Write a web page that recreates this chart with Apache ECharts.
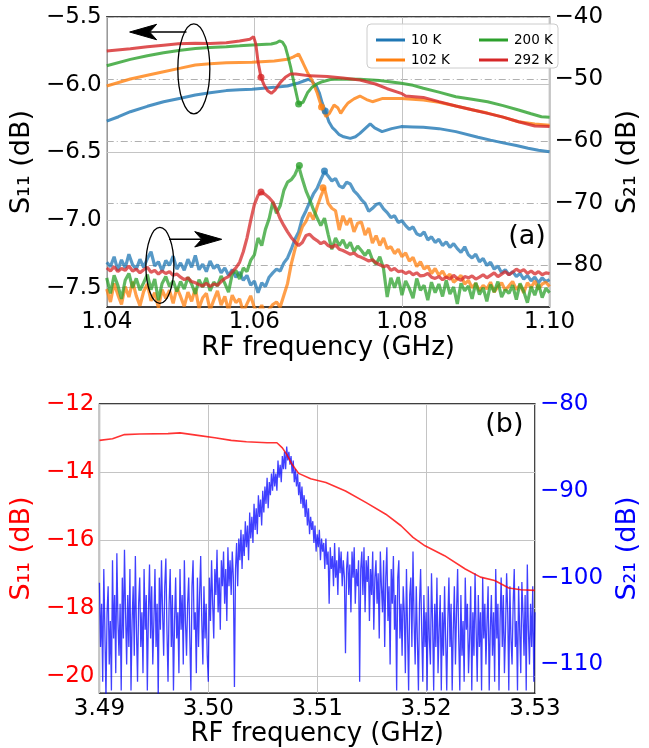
<!DOCTYPE html>
<html><head><meta charset="utf-8">
<script src="https://cdn.jsdelivr.net/npm/echarts@6/dist/echarts.min.js"></script>
<style>html,body{margin:0;padding:0;background:#fff}#c{width:649px;height:748px}</style>
</head><body><div id="c"></div>
<script>
// ---------------- DATA ----------------
const seriesNames = ['10 K', '102 K', '200 K', '292 K'];
const colorsA = ['#1f77b4', '#ff7f0e', '#2ca02c', '#d62728'];

// Panel (a): S11 (left axis, dB) as [GHz, dB]
const s11_10K = [[1.0400,-6.27],[1.0416,-6.237],[1.0432,-6.20],[1.0455,-6.16],[1.0477,-6.126],[1.050,-6.10],[1.052,-6.076],[1.054,-6.06],[1.0562,-6.044],[1.058,-6.038],[1.0597,-6.034],[1.0627,-6.02],[1.0645,-6.01],[1.0658,-5.99],[1.0666,-5.975],[1.0673,-5.96],[1.0678,-5.975],[1.0684,-6.01],[1.0688,-6.06],[1.0692,-6.136],[1.0696,-6.195],[1.0701,-6.274],[1.0706,-6.32],[1.071,-6.34],[1.0715,-6.37],[1.0721,-6.385],[1.073,-6.397],[1.0737,-6.385],[1.0743,-6.36],[1.075,-6.325],[1.0757,-6.29],[1.0763,-6.32],[1.0773,-6.347],[1.0786,-6.325],[1.0799,-6.31],[1.0815,-6.312],[1.0829,-6.315],[1.085,-6.325],[1.0873,-6.347],[1.0903,-6.389],[1.092,-6.41],[1.0937,-6.43],[1.0955,-6.45],[1.0971,-6.47],[1.0985,-6.485],[1.1,-6.495]];
const s11_102K = [[1.04,-6.01],[1.0432,-5.958],[1.0455,-5.93],[1.0477,-5.904],[1.050,-5.878],[1.052,-5.855],[1.054,-5.845],[1.0562,-5.838],[1.058,-5.836],[1.0597,-5.835],[1.0627,-5.825],[1.0645,-5.813],[1.0653,-5.795],[1.066,-5.773],[1.0666,-5.84],[1.0672,-5.91],[1.0678,-5.966],[1.0685,-6.06],[1.0691,-6.165],[1.0697,-6.237],[1.0702,-6.21],[1.0708,-6.15],[1.0713,-6.17],[1.0717,-6.212],[1.0722,-6.17],[1.0727,-6.135],[1.0735,-6.105],[1.0743,-6.084],[1.0752,-6.11],[1.076,-6.126],[1.0773,-6.103],[1.0799,-6.103],[1.0829,-6.113],[1.085,-6.13],[1.0873,-6.158],[1.0895,-6.185],[1.0916,-6.21],[1.0937,-6.24],[1.0958,-6.274],[1.098,-6.29],[1.1,-6.30]];
const s11_200K = [[1.04,-5.86],[1.0432,-5.813],[1.0455,-5.787],[1.0477,-5.764],[1.050,-5.745],[1.052,-5.732],[1.054,-5.725],[1.0562,-5.719],[1.058,-5.713],[1.0597,-5.707],[1.0623,-5.70],[1.063,-5.69],[1.0634,-5.677],[1.0638,-5.685],[1.0642,-5.72],[1.0645,-5.78],[1.0649,-5.867],[1.0655,-6.02],[1.066,-6.143],[1.0666,-6.13],[1.0672,-6.06],[1.0678,-6.02],[1.0685,-5.995],[1.0692,-5.978],[1.0703,-5.962],[1.0714,-5.958],[1.0743,-5.96],[1.077,-5.97],[1.0799,-5.99],[1.0815,-6.005],[1.0829,-6.027],[1.085,-6.055],[1.0873,-6.089],[1.0895,-6.108],[1.0916,-6.126],[1.0937,-6.155],[1.0958,-6.187],[1.0975,-6.215],[1.0989,-6.237],[1.1,-6.24]];
const s11_292K = [[1.04,-5.751],[1.0432,-5.735],[1.0455,-5.72],[1.0477,-5.708],[1.0497,-5.698],[1.052,-5.694],[1.054,-5.695],[1.0562,-5.69],[1.058,-5.678],[1.0594,-5.665],[1.0599,-5.645],[1.0602,-5.70],[1.0605,-5.83],[1.0609,-5.946],[1.0613,-6.0],[1.0618,-6.045],[1.0623,-6.064],[1.0628,-6.04],[1.0635,-5.985],[1.0642,-5.945],[1.0649,-5.921],[1.0656,-5.921],[1.0675,-5.935],[1.0699,-5.94],[1.072,-5.95],[1.0743,-5.966],[1.0764,-5.995],[1.078,-6.03],[1.0799,-6.064],[1.0805,-6.084],[1.0829,-6.094],[1.085,-6.125],[1.0873,-6.158],[1.0895,-6.185],[1.0916,-6.212],[1.0937,-6.24],[1.0958,-6.274],[1.098,-6.306],[1.1,-6.31]];
// marked points on S11 curves [GHz, dB]
const s11Dots = [[1.0696,-6.195],[1.0691,-6.165],[1.0660,-6.143],[1.0609,-5.946]];

// Panel (a): S21 (right axis, dB), sampled from 1.04 GHz every 0.0005 GHz
const s21StartA = 1.04, s21StepA = 0.0005;
const s21_10K = [-79.5,-80.2,-78.6,-80.8,-79.1,-80.4,-78.2,-79.9,-80.6,-79.0,
-80.3,-78.9,-77.8,-80.1,-79.4,-80.9,-79.2,-80.0,-78.5,-80.6,
-79.6,-80.8,-79.0,-80.3,-78.4,-80.7,-79.8,-81.0,-79.3,-80.5,
-79.9,-81.2,-80.4,-81.6,-80.7,-81.9,-81.1,-82.4,-81.6,-83.2,
-82.5,-84.4,-82.8,-83.4,-81.9,-81.2,-80.6,-80.9,-79.6,-78.8,
-77.4,-75.8,-74.6,-72.4,-71.2,-69.8,-68.5,-67.6,-66.2,-64.9,
-65.6,-66.4,-66.0,-67.2,-67.5,-66.6,-66.9,-68.0,-68.6,-69.4,
-70.0,-71.3,-70.8,-70.2,-70.0,-70.9,-71.5,-72.3,-72.0,-73.1,
-72.8,-73.6,-74.2,-73.8,-74.9,-75.2,-74.6,-75.9,-75.4,-76.3,
-75.8,-76.8,-76.2,-77.1,-76.5,-77.3,-77.9,-77.0,-78.3,-78.8,
-78.2,-79.4,-78.9,-80.0,-79.5,-80.6,-80.1,-81.2,-80.7,-81.5,
-81.0,-81.8,-81.3,-82.2,-81.6,-82.5,-81.9,-82.8,-82.0,-82.6,-82.3];
const s21_102K = [-83.8,-85.9,-82.9,-84.7,-86.3,-83.4,-85.1,-82.6,-84.9,-86.5,
-84.2,-83.0,-85.7,-84.4,-86.8,-83.9,-85.3,-84.0,-86.1,-83.6,
-85.0,-86.6,-84.3,-85.8,-83.7,-86.9,-85.2,-84.5,-87.2,-85.6,
-84.1,-86.4,-85.0,-87.3,-84.8,-86.0,-85.4,-87.5,-86.2,-84.9,
-86.8,-87.6,-86.4,-88.0,-87.1,-86.3,-85.9,-86.7,-84.8,-82.9,
-79.8,-77.4,-75.6,-73.8,-72.9,-71.5,-72.6,-70.6,-68.9,-67.5,
-70.0,-70.8,-71.2,-74.3,-72.0,-73.5,-72.4,-74.6,-73.2,-73.0,
-75.1,-74.0,-76.4,-75.2,-76.8,-75.6,-77.3,-77.0,-78.1,-77.4,
-78.6,-78.0,-79.3,-78.7,-80.2,-79.4,-80.6,-80.1,-81.3,-80.5,
-81.6,-80.9,-82.0,-81.4,-82.7,-82.2,-81.6,-83.0,-82.4,-83.6,
-82.9,-84.1,-83.2,-83.8,-82.7,-84.3,-83.4,-82.8,-84.0,-83.3,
-82.6,-83.9,-83.1,-84.4,-82.8,-83.6,-82.5,-83.8,-83.0,-82.7,-83.4];
const s21_200K = [-82.0,-84.5,-81.6,-83.2,-85.4,-82.4,-81.3,-83.6,-82.1,-84.0,
-82.8,-81.5,-83.9,-82.2,-85.6,-82.9,-81.8,-83.4,-82.5,-84.2,
-82.6,-83.8,-81.9,-83.0,-84.6,-82.3,-83.5,-82.0,-84.1,-82.7,
-83.3,-81.7,-82.9,-84.3,-81.4,-80.8,-82.2,-80.4,-81.0,-79.2,
-78.3,-75.6,-76.8,-74.2,-72.5,-69.8,-71.6,-70.4,-67.9,-66.6,
-66.2,-65.4,-64.0,-66.1,-68.0,-69.4,-71.0,-72.3,-73.6,-72.4,
-75.0,-77.4,-75.6,-76.8,-75.9,-77.2,-76.3,-77.8,-76.9,-77.6,
-78.4,-77.5,-79.1,-79.8,-78.6,-80.5,-85.1,-82.0,-83.6,-81.9,
-84.8,-82.5,-83.7,-85.3,-82.1,-84.0,-83.2,-85.6,-82.7,-84.4,
-83.0,-85.0,-82.4,-84.6,-83.5,-86.2,-82.9,-84.1,-83.3,-85.4,
-82.8,-84.7,-83.6,-85.8,-83.1,-84.3,-82.6,-85.1,-83.9,-84.5,
-83.2,-85.5,-82.9,-84.2,-86.0,-83.4,-84.8,-83.0,-85.2,-83.7,-84.4];
const s21_292K = [-80.4,-80.9,-80.2,-81.0,-80.5,-80.8,-80.1,-80.9,-80.6,-81.2,
-80.7,-80.3,-81.1,-80.8,-81.4,-80.9,-81.3,-81.0,-81.6,-81.4,
-81.9,-82.3,-82.0,-82.6,-82.8,-83.1,-83.3,-82.9,-83.4,-83.0,
-83.2,-82.6,-82.1,-81.8,-81.0,-80.4,-79.5,-77.8,-75.6,-72.8,
-70.2,-68.7,-68.2,-68.6,-69.1,-69.8,-71.0,-72.5,-73.6,-74.6,
-75.5,-76.2,-76.8,-76.3,-75.2,-75.0,-75.6,-76.0,-76.5,-76.2,
-76.8,-77.1,-76.7,-77.4,-77.6,-77.9,-78.2,-78.0,-78.5,-78.7,
-79.0,-79.3,-79.1,-79.6,-79.9,-80.2,-80.0,-80.8,-80.5,-81.0,
-80.9,-81.3,-81.0,-81.5,-81.2,-81.7,-81.6,-81.3,-81.9,-82.1,
-81.8,-82.3,-81.9,-82.2,-81.6,-82.1,-82.4,-81.8,-82.0,-81.7,
-82.2,-81.9,-81.5,-82.0,-81.6,-81.2,-81.8,-81.4,-81.0,-81.5,
-81.1,-80.6,-81.0,-80.7,-81.3,-80.9,-81.4,-81.0,-81.5,-81.2,-81.3];
// marked points on S21 curves [GHz, dB]
const s21Dots = [[1.0695,-64.8],[1.0693,-67.5],[1.0661,-63.9],[1.0609,-68.2]];

// Panel (b): S11 (left, red) as [GHz, dB]
const s11B = [[3.490,-13.07],[3.4912,-13.02],[3.4923,-12.9],[3.4937,-12.88],[3.4963,-12.87],[3.4974,-12.85],[3.4992,-12.93],[3.5006,-12.99],[3.5021,-13.07],[3.5035,-13.11],[3.5054,-13.14],[3.5063,-13.14],[3.5068,-13.29],[3.5072,-13.48],[3.5077,-13.78],[3.5083,-14.04],[3.5094,-14.2],[3.5108,-14.31],[3.5126,-14.56],[3.5145,-14.9],[3.5163,-15.24],[3.5177,-15.58],[3.5188,-15.92],[3.5199,-16.17],[3.5217,-16.46],[3.5236,-16.85],[3.525,-17.09],[3.5263,-17.19],[3.5276,-17.41],[3.5287,-17.46],[3.530,-17.48]];
// Panel (b): S21 (right, blue), sampled from 3.49 GHz every 0.0001 GHz
const s21StartB = 3.49, s21StepB = 0.0001;
const s21B = [-100.6,-108,-103,-112,-99,-106,-114,-104,-101,-110,-105,-113,-98,-107,-102,-111,-97.2,-105,-109,-103,
-113,-100,-107,-96.8,-104,-110,-102,-108,-99,-113,-105,-101,-109,-97.5,-106,-112,-103,-100,-108,-104,
-111,-99,-106,-102,-113,-104,-98.5,-107,-101,-110,-105,-99,-108,-103,-114,-100,-106,-98,-104,-109,
-101,-97.8,-106,-112,-103,-99,-108,-102,-113,-105,-100,-107,-104,-111,-99,-106,-102,-110,-98,-105,
-109,-103,-100,-107,-113,-101,-98,-106,-104,-111,-100,-108,-102,-97.5,-105,-110,-101,-107,-103,-109,
-112,-100,-105,-98,-103,-107,-99,-102,-96.8,-104,-100,-106,-98,-101,-97,-103,-99,-105,-96.5,-101,
-98,-102,-97,-100,-112.6,-99,-96,-101,-95.5,-98,-94.5,-99,-95,-97.5,-93.5,-96.5,-94,-98,-92.5,-95.5,
-93,-96,-91.5,-94.5,-92,-95,-90.5,-93,-91,-94,-90,-92.5,-89.5,-91.5,-88.5,-92,-89,-90.5,-88,-90,
-87.5,-89.5,-88,-90,-86.5,-88.5,-87,-89,-86,-87.5,-85.5,-87.5,-84.9,-86.5,-85.5,-87,-86,-88,-86.5,-89,
-87.5,-89.5,-88,-90.5,-89,-91.5,-89.5,-92,-90.5,-93,-91,-94,-92,-95,-93,-94.5,-93.5,-96,-94,-97,
-95,-96.5,-94.5,-98,-95.5,-97,-96,-99,-95.5,-98.5,-97,-103,-96.5,-99,-97.5,-101,-96,-100,-98,-102,
-96.5,-99.5,-97,-101,-98,-100,-108.7,-99,-97,-102,-98.5,-104,-97,-100,-96.5,-103,-99,-101,-98,-112,
-99,-97,-102,-96.5,-104,-98,-100.5,-97.5,-105,-99,-102,-97,-106,-100,-98,-103,-99.5,-107,-97,-101,
-104,-98,-108,-100,-96.5,-105,-101,-110,-99,-103,-97.5,-106,-102,-113,-100,-98,-107,-103,-109,-101,
-104,-111,-99,-106,-113,-102,-100,-108,-97,-105,-110,-101,-107,-113,-103,-99,-106,-112,-102,-108,
-104,-113,-101,-107,-110,-99.5,-105,-113,-103,-108,-100,-111,-106,-102,-113,-104,-109,-101,-107,-113,
-105,-100,-108,-103,-113,-106,-101,-110,-104,-99,-107,-113,-102,-109,-105,-112,-100,-106,-103,-111,
-107,-101,-113,-104,-109,-99.5,-106,-112,-102,-108,-104,-113,-100,-107,-103,-110,-105,-101,-113,-106,
-102,-109,-104,-112,-99,-107,-103,-113,-105,-100,-108,-102,-111,-106,-99.5,-104,-113,-101,-107,-110,
-103,-99,-108,-105,-113,-101,-106,-111,-100.5,-104,-109,-102,-113,-98.5,-106,-110,-103,-108,-101,-112,
-104];

// tick labels
const xTicksA = [1.04, 1.06, 1.08, 1.10];
const yLeftTicksA = [-7.5, -7.0, -6.5, -6.0, -5.5];
const yRightTicksA = [-80, -70, -60, -50, -40];
const xTicksB = [3.49, 3.50, 3.51, 3.52, 3.53];
const yLeftTicksB = [-20, -18, -16, -14, -12];
const yRightTicksB = [-110, -100, -90, -80];

// ---------------- CHART ----------------
const FONT = 'DejaVu Sans';
const minus = v => (v < 0 ? '\u2212' : '');
const fmt = d => v => minus(v) + Math.abs(v).toFixed(d);
const toXY = (arr, start, step) => arr.map((v, i) => [+(start + step * i).toFixed(5), v]);

const chart = echarts.init(document.getElementById('c'), null, {renderer: 'canvas'});

function yAxisCfg(opt) {
  return Object.assign({
    type: 'value', scale: true,
    axisLine: {show: false}, axisTick: {show: false, customValues: opt.ticks},
    axisLabel: {customValues: opt.ticks, formatter: fmt(opt.dec), fontSize: 23, color: opt.color || '#000', margin: 5, fontFamily: FONT},
    nameLocation: 'middle', nameRotate: 90,
    nameTextStyle: {fontSize: 27, color: opt.color || '#000', fontFamily: FONT},
    splitLine: opt.split
  }, opt.extra);
}
function xAxisCfg(opt) {
  return Object.assign({
    type: 'value', axisLine: {show: false}, axisTick: {show: false, customValues: opt.ticks},
    axisLabel: {customValues: opt.ticks, formatter: fmt(2), fontSize: 23, color: '#000', margin: 4, fontFamily: FONT},
    splitLine: gridLine,
    name: 'RF frequency (GHz)', nameLocation: 'middle', nameGap: 27,
    nameTextStyle: {fontSize: 26, color: '#000', fontFamily: FONT}
  }, opt.extra);
}

const gridLine = {show: true, lineStyle: {color: '#c4c4c4', width: 1}};
const dashDot = {show: true, lineStyle: {color: '#b0b0b0', width: 1, type: [7, 3, 1, 3]}};

const series = [];
const s11A = [s11_10K, s11_102K, s11_200K, s11_292K];
const s21A = [s21_10K, s21_102K, s21_200K, s21_292K];
for (let k = 0; k < 4; k++) {
  series.push({name: seriesNames[k], type: 'line', xAxisIndex: 0, yAxisIndex: 1,
    data: toXY(s21A[k], s21StartA, s21StepA), showSymbol: false, symbol: 'none',
    lineStyle: {color: colorsA[k], width: 3.2, opacity: 0.75}, itemStyle: {color: colorsA[k]}, z: 2, animation: false});
}
for (let k = 0; k < 4; k++) {
  series.push({name: seriesNames[k], type: 'line', xAxisIndex: 0, yAxisIndex: 0,
    data: s11A[k], showSymbol: false, symbol: 'none',
    lineStyle: {color: colorsA[k], width: 3, opacity: 0.8}, itemStyle: {color: colorsA[k]}, z: 3, animation: false});
}
for (let k = 0; k < 4; k++) {
  series.push({name: 'dot11_' + k, type: 'scatter', xAxisIndex: 0, yAxisIndex: 0, data: [s11Dots[k]],
    symbolSize: 7, itemStyle: {color: colorsA[k]}, z: 4, animation: false});
  series.push({name: 'dot21_' + k, type: 'scatter', xAxisIndex: 0, yAxisIndex: 1, data: [s21Dots[k]],
    symbolSize: 7, itemStyle: {color: colorsA[k]}, z: 4, animation: false});
}
series.push({name: 'S21b', type: 'line', xAxisIndex: 1, yAxisIndex: 3, data: toXY(s21B, s21StartB, s21StepB),
  showSymbol: false, symbol: 'none', lineStyle: {color: '#0000ff', width: 1.3, opacity: 0.75}, z: 2, animation: false});
series.push({name: 'S11b', type: 'line', xAxisIndex: 1, yAxisIndex: 2, data: s11B,
  showSymbol: false, symbol: 'none', lineStyle: {color: '#ff0000', width: 1.6, opacity: 0.8}, z: 3, animation: false});

const legendCommon = {orient: 'vertical', icon: 'rect', itemWidth: 29, itemHeight: 3, itemGap: 6, selectedMode: false, z: 10,
  textStyle: {fontSize: 13.5, lineHeight: 14, fontFamily: FONT, color: '#000', padding: [0, 0, 0, 1]}};

const option = {
  backgroundColor: '#fff',
  animation: false,
  textStyle: {fontFamily: FONT},
  grid: [
    {left: 103, top: 17, width: 462, height: 290, show: true, borderColor: '#000', borderWidth: 1.3, backgroundColor: 'transparent'},
    {left: 95, top: 404, width: 455, height: 290, show: true, borderColor: '#000', borderWidth: 1.3, backgroundColor: 'transparent'}
  ],
  legend: [
    Object.assign({data: ['10 K', '102 K'], left: 371, top: 28}, legendCommon),
    Object.assign({data: ['200 K', '292 K'], left: 474, top: 28}, legendCommon)
  ],
  xAxis: [
    xAxisCfg({ticks: xTicksA, extra: {gridIndex: 0, min: 1.04, max: 1.10, interval: 0.02}}),
    xAxisCfg({ticks: xTicksB, extra: {gridIndex: 1, min: 3.49, max: 3.53, interval: 0.01}})
  ],
  yAxis: [
    yAxisCfg({ticks: yLeftTicksA, dec: 1, split: gridLine,
      extra: {gridIndex: 0, position: 'left', min: -7.643, max: -5.5, name: 'S\u2081\u2081 (dB)', nameGap: 66}}),
    yAxisCfg({ticks: yRightTicksA, dec: 0, split: dashDot,
      extra: {gridIndex: 0, position: 'right', min: -86.7, max: -40, name: 'S\u2082\u2081 (dB)', nameGap: 56}}),
    yAxisCfg({ticks: yLeftTicksB, dec: 0, split: gridLine, color: '#ff0000',
      extra: {gridIndex: 1, position: 'left', min: -20.5, max: -12, name: 'S\u2081\u2081 (dB)', nameGap: 57}}),
    yAxisCfg({ticks: yRightTicksB, dec: 0, split: {show: false}, color: '#0000ff',
      extra: {gridIndex: 1, position: 'right', min: -113.3, max: -80, name: 'S\u2082\u2081 (dB)', nameGap: 71}})
  ],
  series: series
};
chart.setOption(option);

// ---------------- ANNOTATIONS (anchored in data coordinates) ----------------
const ellipsesA = [ // [GHz, dB, yAxisIndex, rx px, ry px]
  [1.0518, -5.884, 0, 16, 45],
  [1.0472, -80.0, 1, 14, 38]
];
const arrowsA = [ // tail [GHz,dB], tip [GHz,dB], yAxisIndex
  [[1.0508, -5.611], [1.0431, -5.611], 0],
  [[1.04844, -75.8], [1.05558, -75.8], 1]
];
const panelLabels = [ // text, xAxisIndex, yAxisIndex, [x, y]
  ['(a)', 0, 0, [1.0995, -7.126]],
  ['(b)', 1, 2, [3.52895, -12.615]]
];
const P = (xi, yi, pt) => chart.convertToPixel({xAxisIndex: xi, yAxisIndex: yi}, pt);
const g = [];
g.push({type: 'rect', shape: {x: 367, y: 24, width: 191, height: 44, r: 4}, z: 9,
  style: {fill: 'rgba(255,255,255,0.85)', stroke: '#cccccc', lineWidth: 1}});
ellipsesA.forEach(e => {
  const c = P(0, e[2], [e[0], e[1]]);
  g.push({type: 'ellipse', shape: {cx: c[0], cy: c[1], rx: e[3], ry: e[4]}, z: 8,
    style: {fill: 'none', stroke: '#000', lineWidth: 1.3}});
});
arrowsA.forEach(a => {
  const t = P(0, a[2], a[0]), h = P(0, a[2], a[1]);
  const dir = Math.sign(h[0] - t[0]);
  const notch = [h[0] - dir * 20, h[1]];
  g.push({type: 'line', shape: {x1: t[0], y1: t[1], x2: notch[0], y2: notch[1]}, z: 8, style: {stroke: '#000', lineWidth: 1.5}});
  g.push({type: 'polygon', z: 8, shape: {points: [h, [h[0] - dir * 27, h[1] - 7.7], notch, [h[0] - dir * 27, h[1] + 7.7]]},
    style: {fill: '#000', stroke: '#000', lineWidth: 1}});
});
panelLabels.forEach(l => {
  const p = P(l[1], l[2], l[3]);
  g.push({type: 'text', x: p[0], y: p[1], z: 8, style: {text: l[0], fontSize: 27, fontFamily: FONT, fill: '#000', align: 'right', verticalAlign: 'middle'}});
});
chart.setOption({graphic: g});
</script></body></html>
